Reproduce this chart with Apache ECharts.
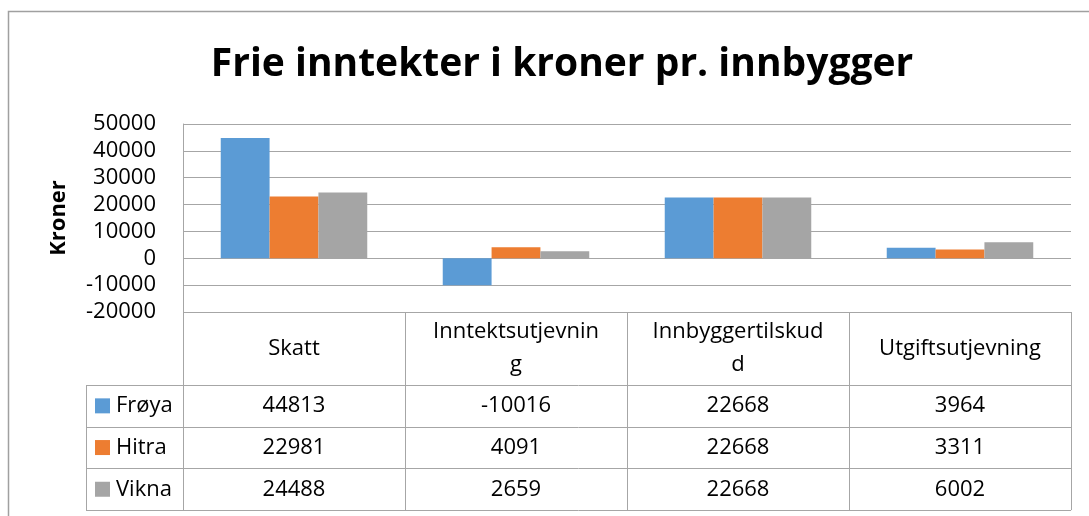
<!DOCTYPE html>
<html>
<head>
<meta charset="utf-8">
<script src="https://cdn.jsdelivr.net/npm/echarts@6/dist/echarts.min.js"></script>
<style>
  html, body { margin: 0; padding: 0; background: #fff; }
  #chart { width: 1089px; height: 516px; }
</style>
</head>
<body>
<div id="chart"></div>
<script>
// chart data
var categories = ['Skatt', 'Inntektsutjevning', 'Innbyggertilskudd', 'Utgiftsutjevning'];
var seriesNames = ['Frøya', 'Hitra', 'Vikna'];
var froya = [44813, -10016, 22668, 3964];
var hitra = [22981, 4091, 22668, 3311];
var vikna = [24488, 2659, 22668, 6002];
var colors = ['#5B9BD5', '#ED7D31', '#A5A5A5'];

var FONT = '"Open Sans", "Noto Sans", sans-serif';
var lineColor = '#a6a6a6';

// plot area and data table layout
var plotLeft = 183, plotRight = 1071, plotTop = 124, plotBottom = 312;
var headerBottom = 385, rowH = 41.7, legendLeft = 86;

var myChart = echarts.init(document.getElementById('chart'));

function buildTable() {
    var els = [];
    var colW = (plotRight - plotLeft) / categories.length;
    var tableBottom = headerBottom + rowH * seriesNames.length;

    // vertical lines
    for (var i = 0; i <= categories.length; i++) {
        var x = Math.round(plotLeft + colW * i) + 0.5;
        els.push({ type: 'line', shape: { x1: x, y1: plotBottom, x2: x, y2: tableBottom },
            style: { stroke: lineColor, lineWidth: 1 }, silent: true });
    }
    els.push({ type: 'line', shape: { x1: legendLeft + 0.5, y1: headerBottom, x2: legendLeft + 0.5, y2: tableBottom },
        style: { stroke: lineColor, lineWidth: 1 }, silent: true });

    // horizontal lines
    for (var r = 0; r <= seriesNames.length; r++) {
        var y = Math.round(headerBottom + rowH * r) + 0.5;
        els.push({ type: 'line', shape: { x1: legendLeft, y1: y, x2: plotRight, y2: y },
            style: { stroke: lineColor, lineWidth: 1 }, silent: true });
    }

    // header row (category names), wrapped like the Excel data table
    categories.forEach(function (c, i) {
        els.push({ type: 'text', x: plotLeft + colW * (i + 0.5), y: (plotBottom + headerBottom) / 2,
            style: { text: c, font: '22px ' + FONT, fill: '#000', align: 'center', verticalAlign: 'middle',
                width: 174, overflow: 'breakAll', lineHeight: 33 }, silent: true });
    });

    // series rows
    var allData = [froya, hitra, vikna];
    seriesNames.forEach(function (name, r) {
        var cy = headerBottom + rowH * (r + 0.5);
        els.push({ type: 'rect', shape: { x: 95, y: cy - 7.5, width: 15, height: 15 },
            style: { fill: colors[r] }, silent: true });
        els.push({ type: 'text', x: 116, y: cy,
            style: { text: name, font: '22px ' + FONT, fill: '#000', align: 'left', verticalAlign: 'middle' }, silent: true });
        allData[r].forEach(function (v, i) {
            els.push({ type: 'text', x: plotLeft + colW * (i + 0.5), y: cy,
                style: { text: String(v), font: '22px ' + FONT, fill: '#000', align: 'center', verticalAlign: 'middle' }, silent: true });
        });
    });

    // outer chart border
    els.push({ type: 'rect', shape: { x: 8.5, y: 11.5, width: 1200, height: 600 },
        style: { fill: 'none', stroke: '#a0a0a0', lineWidth: 1.5 }, silent: true });

    // y axis name
    els.push({ type: 'text', x: 59, y: 218, rotation: Math.PI / 2,
        style: { text: 'Kroner', font: 'bold 22px ' + FONT, fill: '#000', align: 'center', verticalAlign: 'middle' }, silent: true });
    return els;
}

var option = {
    animation: false,
    title: {
        text: 'Frie inntekter i kroner pr. innbygger',
        left: 557,
        textAlign: 'center',
        top: 40,
        textStyle: { fontFamily: FONT, fontWeight: 'bold', fontSize: 39, color: '#000' }
    },
    grid: {
        left: plotLeft,
        right: 1089 - plotRight,
        top: plotTop,
        bottom: 516 - plotBottom,
        containLabel: false
    },
    xAxis: {
        type: 'category',
        data: categories,
        axisLine: { show: false },
        axisTick: { show: false },
        axisLabel: { show: false }
    },
    yAxis: {
        type: 'value',
        min: -20000,
        max: 50000,
        interval: 10000,
        axisLine: { show: true, lineStyle: { color: lineColor, width: 1 } },
        axisTick: { show: false },
        axisLabel: { fontFamily: FONT, fontSize: 22, color: '#000', margin: 27,
            formatter: function (v) { return String(v); } },
        splitLine: { lineStyle: { color: lineColor, width: 1 } }
    },
    series: [
        { name: seriesNames[0], type: 'bar', data: froya, itemStyle: { color: colors[0] }, barGap: '0%', barCategoryGap: '34%' },
        { name: seriesNames[1], type: 'bar', data: hitra, itemStyle: { color: colors[1] } },
        { name: seriesNames[2], type: 'bar', data: vikna, itemStyle: { color: colors[2] } }
    ],
    graphic: buildTable()
};

option && myChart.setOption(option);
</script>
</body>
</html>
